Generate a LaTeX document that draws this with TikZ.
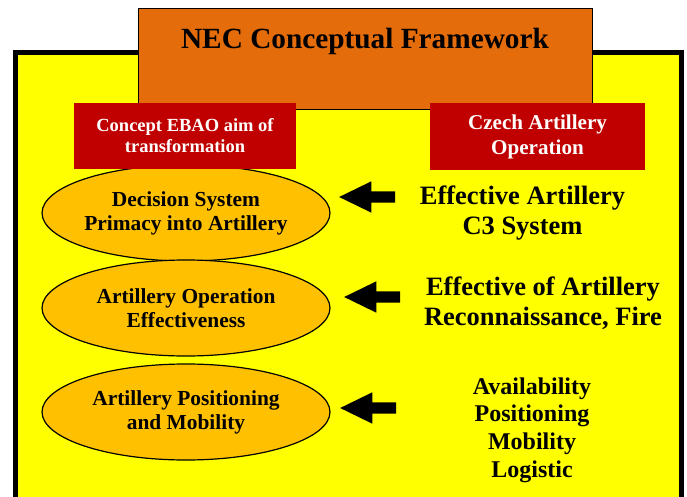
\documentclass[tikz,border=0pt]{standalone}
\usepackage{fontspec}
\setmainfont{Liberation Serif}
\usetikzlibrary{shapes.geometric}
\usetikzlibrary{shapes.arrows}
\usetikzlibrary{positioning}

\definecolor{frameyellow}{HTML}{FFFF00}
\definecolor{titleorange}{HTML}{E46C0A}
\definecolor{aimorange}{HTML}{FFC000}
\definecolor{headred}{HTML}{C00000}

\begin{document}
\begin{tikzpicture}[x=1pt,y=-1pt,
    titlebox/.style={draw,rectangle,fill=titleorange,line width=1pt,minimum width=454pt,minimum height=101pt},
    titlefont/.style={font=\fontsize{29.3}{32}\selectfont\bfseries,inner sep=0pt},
    headbox/.style={rectangle,fill=headred,text=white,align=center,inner sep=0pt,font=\fontsize{18.5}{21}\selectfont\bfseries},
    aimnode/.style={draw,ellipse,fill=aimorange,line width=1.2pt,minimum width=288pt,minimum height=96pt,inner sep=0pt,align=center,font=\fontsize{21.4}{24}\selectfont\bfseries},
    opnode/.style={align=center,inner sep=0pt,font=\fontsize{26.5}{30}\selectfont\bfseries},
    blockarrow/.style={single arrow,fill=black,shape border rotate=180,inner xsep=0pt,inner ysep=5.5pt,
      single arrow head extend=10pt,single arrow tip angle=52,minimum height=56pt}]

  \clip (0,0) rectangle (687,497);

  \draw [line width=5pt,fill=frameyellow] (15.5,53) rectangle (681.5,530);

  \node [titlebox] (title) at (365,59.5) {};
  \node [titlefont,below=19pt of title.north] (titletext) {NEC Conceptual Framework};

  \node [aimnode] (aimA) at (186,213) {Decision System\\Primacy into Artillery};
  \node [aimnode] (aimB) at (186,308) {Artillery Operation\\Effectiveness};
  \node [aimnode] (aimC) at (186,412) {Artillery Positioning\\and Mobility};

  \node [headbox,minimum width=222pt,minimum height=66pt] (aimhead) at (185,136) {Concept EBAO aim of\\transformation};
  \node [headbox,minimum width=215pt,minimum height=67pt,font=\fontsize{21.1}{25}\selectfont\bfseries] (ophead) at (537.5,136.5) {Czech Artillery\\Operation};

  \node [opnode] (opA) at (522.5,213.5) {Effective Artillery\\C3 System};
  \node [opnode] (opB) at (543,303) {Effective of Artillery\\Reconnaissance, Fire};
  \node [opnode,font=\fontsize{24}{27.7}\selectfont\bfseries] (opC) at (532,430) {Availability\\Positioning\\Mobility\\Logistic};

  \node [blockarrow] (arrA) at (373,197) {};
  \node [blockarrow] (arrB) at (378,297) {};
  \node [blockarrow] (arrC) at (374,408) {};

\end{tikzpicture}
\end{document}
